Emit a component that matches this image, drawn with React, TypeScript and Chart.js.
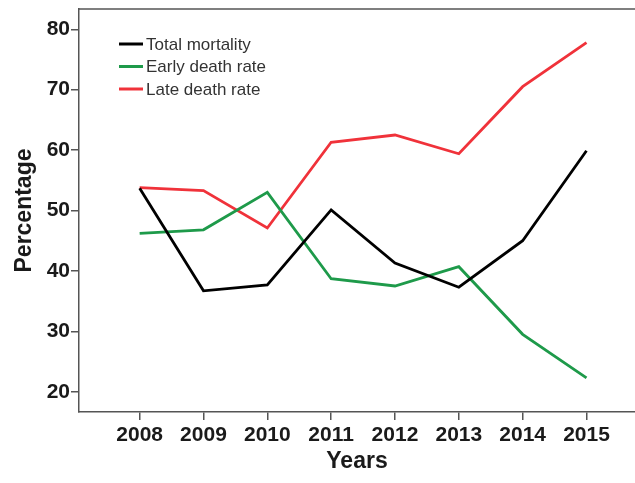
import React, { useEffect, useRef } from "react";
import { Chart, registerables } from "chart.js";

Chart.register(...registerables);

const years = [2008, 2009, 2010, 2011, 2012, 2013, 2014, 2015];
const totalMortality = [53.7, 36.7, 37.7, 50.1, 41.3, 37.3, 45.0, 59.9];
const earlyDeathRate = [46.2, 46.8, 53.0, 38.7, 37.5, 40.7, 29.5, 22.3];
const lateDeathRate = [53.8, 53.3, 47.1, 61.3, 62.5, 59.4, 70.5, 77.8];
const yTicks = [20, 30, 40, 50, 60, 70, 80];
const seriesNames = ["Total mortality", "Early death rate", "Late death rate"];
const seriesColors = ["#000000", "#1e9a4a", "#f0323a"];

const FONT = "'Liberation Sans', Arial, sans-serif";
const FRAME = "#555555";
const TEXT = "#1a1a1a";

const framePlugin = {
  id: "frameTop",
  afterDraw(chart: any) {
    const { ctx, chartArea } = chart;
    ctx.save();
    ctx.strokeStyle = FRAME;
    ctx.lineWidth = 1.5;
    ctx.beginPath();
    ctx.moveTo(chartArea.left, chartArea.top);
    ctx.lineTo(chartArea.right, chartArea.top);
    ctx.stroke();
    ctx.restore();
  },
};

const legendPlugin = {
  id: "insideLegend",
  afterDatasetsDraw(chart: any) {
    const { ctx, chartArea } = chart;
    ctx.save();
    ctx.font = `17px ${FONT}`;
    ctx.textBaseline = "middle";
    ctx.textAlign = "left";
    const x0 = chartArea.left + 40;
    const y0 = chartArea.top + 35;
    chart.data.datasets.forEach((ds: any, i: number) => {
      const y = y0 + i * 22.5;
      ctx.strokeStyle = ds.borderColor;
      ctx.lineWidth = 3;
      ctx.beginPath();
      ctx.moveTo(x0, y);
      ctx.lineTo(x0 + 24, y);
      ctx.stroke();
      ctx.fillStyle = "#333333";
      ctx.fillText(ds.label, x0 + 27, y + 1);
    });
    ctx.restore();
  },
};

export default function App() {
  const ref = useRef<HTMLCanvasElement>(null);

  useEffect(() => {
    if (!ref.current) return;
    const mk = (vals: number[]) => years.map((y, i) => ({ x: y, y: vals[i] }));
    const chart = new Chart(ref.current, {
      type: "line",
      data: {
        datasets: [totalMortality, earlyDeathRate, lateDeathRate].map((vals, i) => ({
          label: seriesNames[i],
          data: mk(vals),
          borderColor: seriesColors[i],
          backgroundColor: seriesColors[i],
          borderWidth: 2.8,
          pointRadius: 0,
          tension: 0,
          fill: false,
        })),
      },
      options: {
        animation: false,
        responsive: false,
        layout: { padding: { top: 9, right: 0, left: 0, bottom: 0 } },
        plugins: { legend: { display: false }, tooltip: { enabled: false } },
        scales: {
          x: {
            type: "linear",
            min: 2007.05,
            max: 2015.76,
            afterBuildTicks: (s: any) => {
              s.ticks = years.map((v) => ({ value: v }));
            },
            afterFit: (s: any) => {
              s.height = 71;
              s.paddingLeft = 0;
              s.paddingRight = 0;
            },
            grid: { drawOnChartArea: false, drawTicks: true, tickLength: 8, color: FRAME, lineWidth: 1.5 },
            border: { display: true, color: FRAME, width: 1.5 },
            ticks: {
              callback: (v: any) => String(v),
              font: { family: FONT, size: 21, weight: "bold" },
              color: TEXT,
              padding: 3,
              maxRotation: 0,
              autoSkip: false,
            },
            title: {
              display: true,
              text: "Years",
              font: { family: FONT, size: 23, weight: "bold" },
              color: TEXT,
              padding: { top: 0, bottom: 8 },
            },
          },
          y: {
            type: "linear",
            min: 16.64,
            max: 83.36,
            afterBuildTicks: (s: any) => {
              s.ticks = yTicks.map((v) => ({ value: v }));
            },
            afterFit: (s: any) => {
              s.width = 79;
              s.paddingTop = 0;
              s.paddingBottom = 0;
            },
            grid: { drawOnChartArea: false, drawTicks: true, tickLength: 8, color: FRAME, lineWidth: 1.5 },
            border: { display: true, color: FRAME, width: 1.5 },
            ticks: {
              callback: (v: any) => String(v),
              font: { family: FONT, size: 21, weight: "bold" },
              color: TEXT,
              padding: 1,
            },
            title: {
              display: true,
              text: "Percentage",
              font: { family: FONT, size: 23, weight: "bold" },
              color: TEXT,
              padding: { top: 10.5, bottom: 0 },
            },
          },
        },
      },
      plugins: [framePlugin, legendPlugin],
    });
    return () => chart.destroy();
  }, []);

  return (
    <div style={{ position: "fixed", left: 0, top: 0, width: 635, height: 483, background: "#fff" }}>
      <canvas ref={ref} width={635} height={483} style={{ display: "block" }} />
    </div>
  );
}
